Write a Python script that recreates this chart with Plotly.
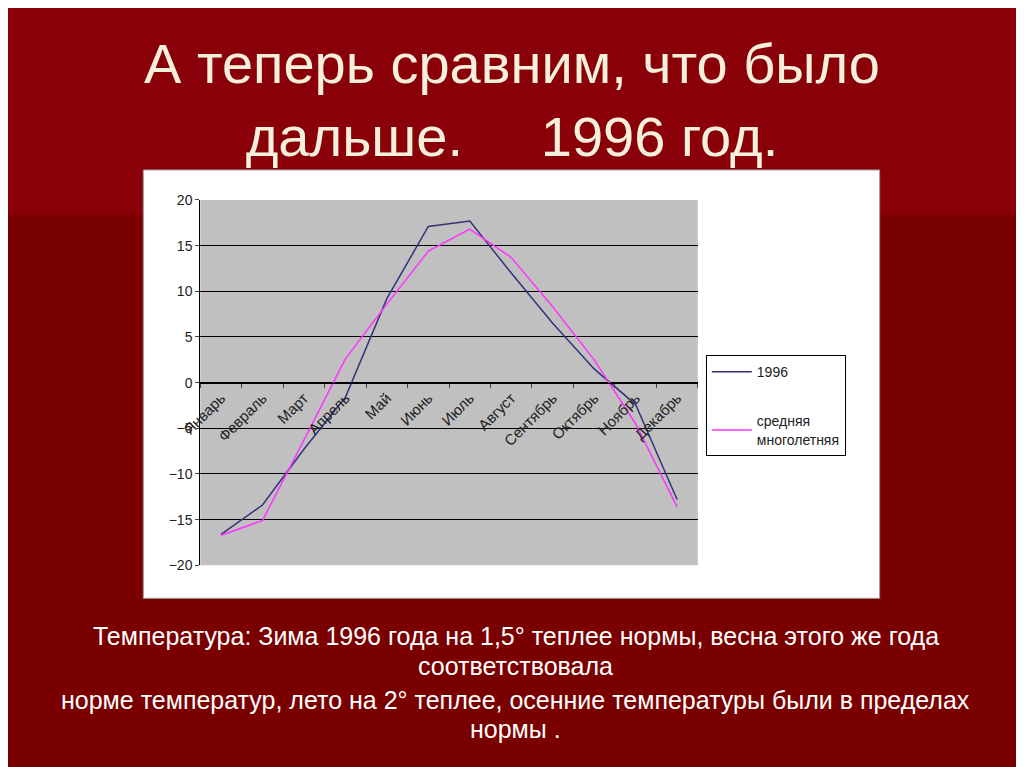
import plotly.graph_objects as go

months = ["Январь","Февраль","Март","Апрель","Май","Июнь","Июль","Август","Сентябрь","Октябрь","Ноябрь","Декабрь"]
t1996 = [-16.6, -13.4, -7.3, -1.6, 9.2, 17.1, 17.7, 12.0, 6.5, 1.5, -2.4, -12.8]
norm = [-16.7, -15.1, -6.3, 2.6, 8.6, 14.4, 16.8, 13.7, 8.3, 2.5, -4.5, -13.6]
yticks = [-20, -15, -10, -5, 0, 5, 10, 15, 20]
caption = ["Температура: Зима 1996 года на 1,5° теплее нормы, весна этого же года",
           "соответствовала",
           "норме температур, лето на 2° теплее, осенние температуры были в пределах",
           "нормы ."]

W, H = 1008, 759
AX, BX, AY, BY = 27.6, 0.981, 16.2, 0.978
def px(x): return ((x - AX) / BX) / W
def py(y): return 1 - ((y - AY) / BY) / H

fig = go.Figure()
fig.add_trace(go.Scatter(x=months, y=t1996, mode="lines", name="1996", legendgroup="a",
                         line=dict(color="#33337a", width=1.5)))
fig.add_trace(go.Scatter(x=months, y=norm, mode="lines", name="средняя<br>многолетняя",
                         legendgroup="b", line=dict(color="#ff33ff", width=1.5)))

yd = [py(565), py(200)]
caption_ys = [636, 666, 700, 729]
annotations = [
    dict(text="А теперь сравним, что было<br>дальше.     1996 год.", xref="paper", yref="paper",
         x=px(512), y=py(30), xanchor="center", yanchor="top", showarrow=False,
         font=dict(size=56, color="#f4f0dc")),
]
for line, yy in zip(caption, caption_ys):
    annotations.append(dict(text=line, xref="paper", yref="paper", x=px(516), y=py(yy),
                            xanchor="center", yanchor="middle", showarrow=False,
                            font=dict(size=25, color="white")))

fig.update_layout(
    width=W, height=H, margin=dict(l=0, r=0, t=0, b=0),
    paper_bgcolor="#7a0000", plot_bgcolor="#c0c0c0",
    font=dict(family="Liberation Sans, Arial", color="black"),
    showlegend=True,
    legend=dict(x=px(706), y=py(355), xanchor="left", yanchor="top",
                bgcolor="white", bordercolor="black", borderwidth=1,
                font=dict(size=14, color="#222"), tracegroupgap=28,
                itemwidth=40),
    xaxis=dict(domain=[px(200), px(698)], anchor="free", position=(yd[0]+yd[1])/2,
               tickangle=-45, showgrid=False, showline=True, linecolor="black",
               ticks="outside", ticklen=4, tickfont=dict(size=15, color="#222"),
               range=[-0.5, 11.5], tickson="boundaries"),
    yaxis=dict(domain=yd, range=[-20, 20], tickvals=yticks, showgrid=True,
               gridcolor="black", gridwidth=1, zeroline=False, showline=True,
               linecolor="black", ticks="outside", ticklen=4,
               tickfont=dict(size=14, color="#222")),
    shapes=[
        dict(type="rect", xref="paper", yref="paper", x0=-0.1, x1=1.1, y0=py(215), y1=1.1,
             fillcolor="#8a0008", line_width=0, layer="below"),
        dict(type="rect", xref="paper", yref="paper", x0=px(143), x1=px(880),
             y0=py(598), y1=py(170), fillcolor="white",
             line=dict(color="#999", width=1), layer="below"),
        dict(type="rect", xref="x domain", yref="y domain", x0=0, x1=1, y0=0, y1=1,
             fillcolor="#c0c0c0", line_width=0, layer="below"),
    ],
    annotations=annotations,
)
fig.write_html("out.html")
